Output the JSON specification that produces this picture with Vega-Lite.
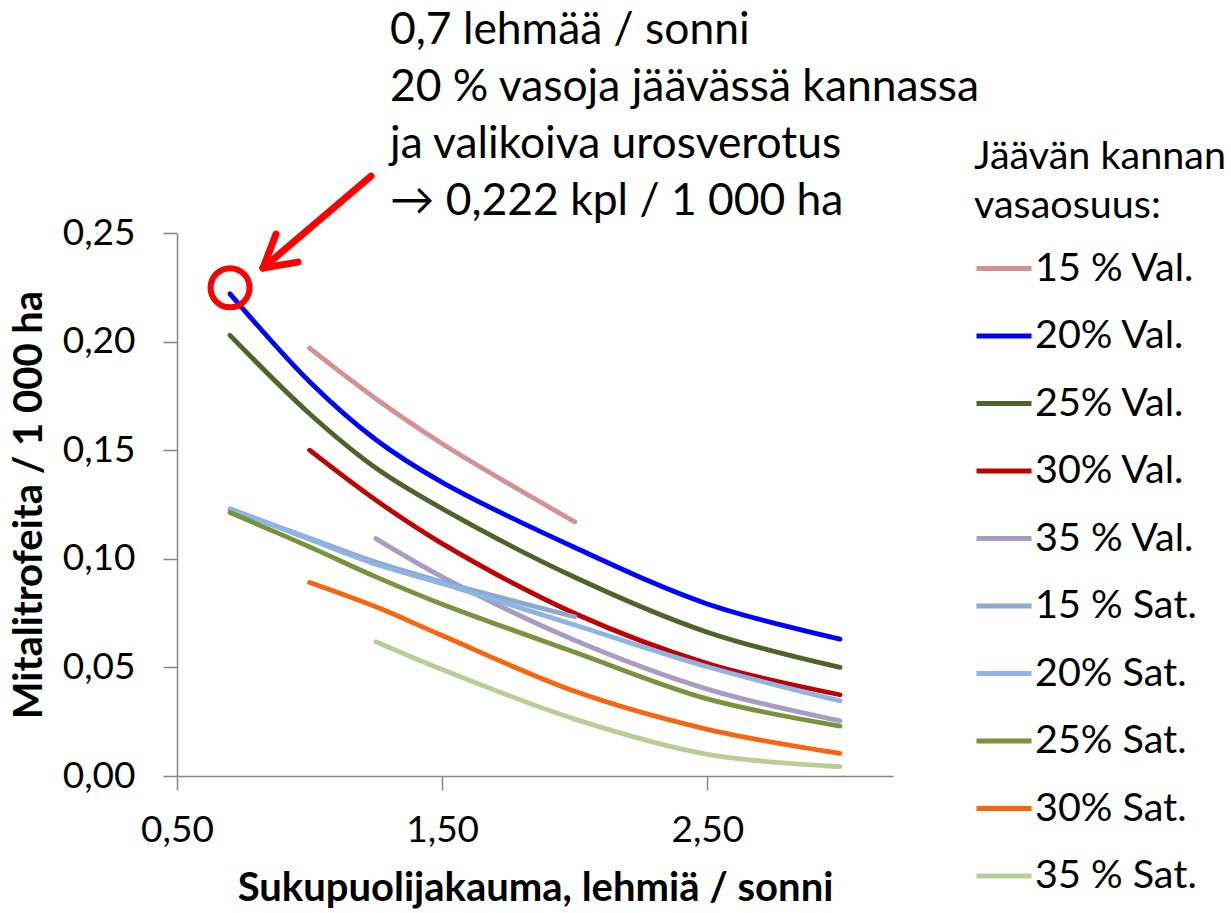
{
  "$schema": "https://vega.github.io/schema/vega-lite/v6.json",
  "width": 716,
  "height": 543,
  "autosize": {"type": "none"},
  "padding": {"left": 177, "top": 233, "right": 338, "bottom": 137},
  "background": "white",
  "config": {"view": {"stroke": null}, "font": "Lato"},
  "title": {
    "text": ["0,7 lehmää / sonni", "20 % vasoja jäävässä kannassa", "ja valikoiva urosverotus", "→ 0,222 kpl / 1 000 ha"],
    "anchor": "start",
    "frame": "group",
    "dx": 213,
    "dy": 86,
    "offset": 0,
    "fontSize": 44.4,
    "font": "Lato",
    "fontWeight": "normal",
    "lineHeight": 57,
    "color": "black"
  },
  "encoding": {
    "x": {
      "field": "x", "type": "quantitative",
      "scale": {"domain": [0.5, 3.2], "nice": false, "zero": false},
      "axis": {
        "title": "Sukupuolijakauma, lehmiä / sonni",
        "values": [0.5, 1.5, 2.5],
        "labelExpr": "replace(format(datum.value, '.2f'), '.', ',')",
        "grid": false, "domainColor": "#868686", "domainWidth": 1.5,
        "tickColor": "#868686", "tickWidth": 1.5, "tickSize": 14,
        "labelFont": "Lato", "labelFontSize": 37, "labelColor": "black", "labelPadding": 22,
        "labelFlush": false,
        "titleFont": "Lato", "titleFontSize": 40, "titleFontWeight": "bold", "titleColor": "black", "titlePadding": 20
      }
    },
    "y": {
      "field": "y", "type": "quantitative",
      "scale": {"domain": [0, 0.25], "nice": false},
      "axis": {
        "title": "Mitalitrofeita / 1 000 ha",
        "values": [0, 0.05, 0.1, 0.15, 0.2, 0.25],
        "labelExpr": "replace(format(datum.value, '.2f'), '.', ',')",
        "grid": false, "domainColor": "#868686", "domainWidth": 1.5,
        "tickColor": "#868686", "tickWidth": 1.5, "tickSize": 14,
        "labelFont": "Lato", "labelFontSize": 37, "labelColor": "black", "labelPadding": 28,
        "labelFlush": false,
        "titleFont": "Lato", "titleFontSize": 40, "titleFontWeight": "bold", "titleColor": "black", "titlePadding": 13
      }
    }
  },
  "layer": [
    {
      "data": {"values": [
        {"s": "15 % Val.", "x": 1.0, "y": 0.197},
        {"s": "15 % Val.", "x": 1.25, "y": 0.1737},
        {"s": "15 % Val.", "x": 1.5, "y": 0.153},
        {"s": "15 % Val.", "x": 2.0, "y": 0.117},
        {"s": "20% Val.", "x": 0.7, "y": 0.222},
        {"s": "20% Val.", "x": 1.0, "y": 0.1815},
        {"s": "20% Val.", "x": 1.25, "y": 0.1548},
        {"s": "20% Val.", "x": 1.5, "y": 0.1352},
        {"s": "20% Val.", "x": 2.0, "y": 0.1052},
        {"s": "20% Val.", "x": 2.5, "y": 0.0792},
        {"s": "20% Val.", "x": 3.0, "y": 0.063},
        {"s": "25% Val.", "x": 0.7, "y": 0.2029},
        {"s": "25% Val.", "x": 1.0, "y": 0.1668},
        {"s": "25% Val.", "x": 1.25, "y": 0.1418},
        {"s": "25% Val.", "x": 1.5, "y": 0.1231},
        {"s": "25% Val.", "x": 2.0, "y": 0.0915},
        {"s": "25% Val.", "x": 2.5, "y": 0.0662},
        {"s": "25% Val.", "x": 3.0, "y": 0.050},
        {"s": "30% Val.", "x": 1.0, "y": 0.150},
        {"s": "30% Val.", "x": 1.25, "y": 0.127},
        {"s": "30% Val.", "x": 1.5, "y": 0.107},
        {"s": "30% Val.", "x": 2.0, "y": 0.0748},
        {"s": "30% Val.", "x": 2.5, "y": 0.0518},
        {"s": "30% Val.", "x": 3.0, "y": 0.0374},
        {"s": "35 % Val.", "x": 1.25, "y": 0.1093},
        {"s": "35 % Val.", "x": 1.5, "y": 0.0917},
        {"s": "35 % Val.", "x": 2.0, "y": 0.0625},
        {"s": "35 % Val.", "x": 2.5, "y": 0.040},
        {"s": "35 % Val.", "x": 3.0, "y": 0.0254},
        {"s": "15 % Sat.", "x": 0.7, "y": 0.1228},
        {"s": "15 % Sat.", "x": 1.0, "y": 0.1095},
        {"s": "15 % Sat.", "x": 1.25, "y": 0.0985},
        {"s": "15 % Sat.", "x": 1.5, "y": 0.0894},
        {"s": "15 % Sat.", "x": 2.0, "y": 0.0733},
        {"s": "20% Sat.", "x": 0.7, "y": 0.1231},
        {"s": "20% Sat.", "x": 1.0, "y": 0.109},
        {"s": "20% Sat.", "x": 1.25, "y": 0.0975},
        {"s": "20% Sat.", "x": 1.5, "y": 0.0886},
        {"s": "20% Sat.", "x": 2.0, "y": 0.0695},
        {"s": "20% Sat.", "x": 2.5, "y": 0.0503},
        {"s": "20% Sat.", "x": 3.0, "y": 0.0346},
        {"s": "25% Sat.", "x": 0.7, "y": 0.1213},
        {"s": "25% Sat.", "x": 1.0, "y": 0.1055},
        {"s": "25% Sat.", "x": 1.25, "y": 0.0917},
        {"s": "25% Sat.", "x": 1.5, "y": 0.0791},
        {"s": "25% Sat.", "x": 2.0, "y": 0.057},
        {"s": "25% Sat.", "x": 2.5, "y": 0.0355},
        {"s": "25% Sat.", "x": 3.0, "y": 0.023},
        {"s": "30% Sat.", "x": 1.0, "y": 0.0891},
        {"s": "30% Sat.", "x": 1.25, "y": 0.0779},
        {"s": "30% Sat.", "x": 1.5, "y": 0.0647},
        {"s": "30% Sat.", "x": 2.0, "y": 0.039},
        {"s": "30% Sat.", "x": 2.5, "y": 0.0215},
        {"s": "30% Sat.", "x": 3.0, "y": 0.0104},
        {"s": "35 % Sat.", "x": 1.25, "y": 0.0618},
        {"s": "35 % Sat.", "x": 1.5, "y": 0.049},
        {"s": "35 % Sat.", "x": 2.0, "y": 0.0262},
        {"s": "35 % Sat.", "x": 2.5, "y": 0.0100},
        {"s": "35 % Sat.", "x": 3.0, "y": 0.0043}
      ]},
      "mark": {"type": "line", "interpolate": "catmull-rom", "strokeWidth": 4.8, "strokeCap": "round"},
      "encoding": {
        "color": {
          "field": "s", "type": "nominal",
          "scale": {
            "domain": ["15 % Val.", "20% Val.", "25% Val.", "30% Val.", "35 % Val.", "15 % Sat.", "20% Sat.", "25% Sat.", "30% Sat.", "35 % Sat."],
            "range": ["#D39291", "#0000FF", "#4F6228", "#C00000", "#A89CC2", "#8FA8CD", "#8DB4E2", "#77933C", "#F86410", "#B6CF96"]
          },
          "legend": {
            "orient": "none", "legendX": 797, "legendY": -95,
            "title": ["Jäävän kannan", "vasaosuus:"],
            "titleFont": "Lato", "titleFontSize": 39.5, "titleFontWeight": "normal", "titleColor": "black",
            "titleLineHeight": 49, "titleLimit": 400, "titlePadding": 12,
            "labelFont": "Lato", "labelFontSize": 39.5, "labelColor": "black", "labelLimit": 400, "labelOffset": 1,
            "symbolType": "stroke", "symbolSize": 3025, "symbolStrokeWidth": 5,
            "rowPadding": 17.5, "padding": 0
          }
        },
        "order": {"field": "x", "type": "quantitative"}
      }
    },
    {
      "data": {"values": [{"x": 0.7, "y": 0.2248}]},
      "mark": {"type": "point", "shape": "circle", "size": 1521, "filled": false, "stroke": "#FF0000", "strokeWidth": 6, "opacity": 1}
    },
    {
      "data": {"values": [
        {"x": 1.2315, "y": 0.2762, "x2": 0.8243, "y2": 0.2339},
        {"x": 0.8733, "y": 0.2495, "x2": 0.8243, "y2": 0.2339},
        {"x": 0.9563, "y": 0.2366, "x2": 0.8243, "y2": 0.2339}
      ]},
      "mark": {"type": "rule", "color": "#FF0000", "strokeWidth": 7, "strokeCap": "round"},
      "encoding": {
        "x2": {"field": "x2"},
        "y2": {"field": "y2"}
      }
    }
  ]
}
